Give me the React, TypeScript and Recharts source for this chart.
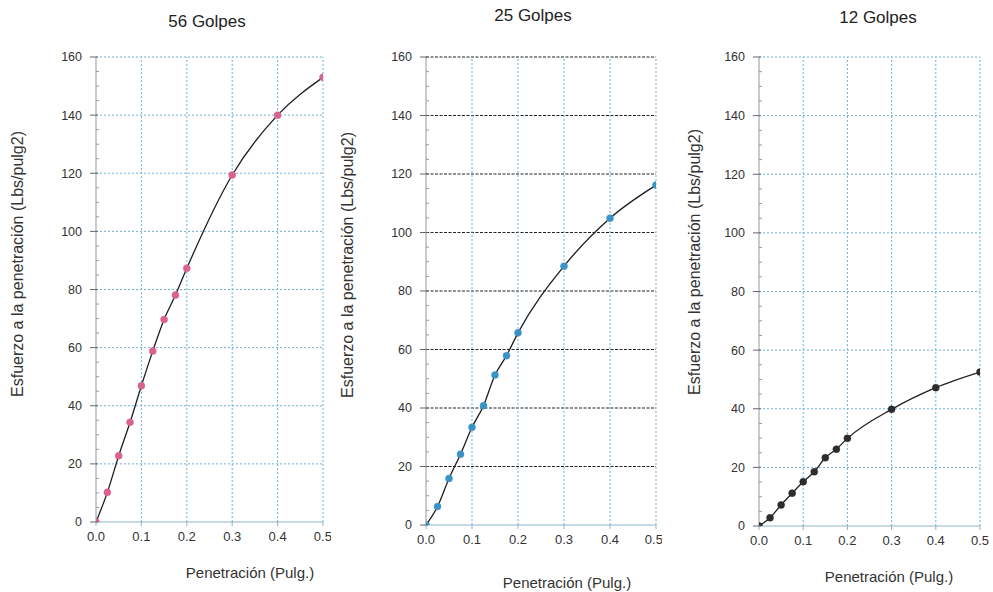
import React from 'react';
import { LineChart, Line, XAxis, YAxis, ReferenceLine } from 'recharts';

const penetration = [0, 0.025, 0.05, 0.075, 0.1, 0.125, 0.15, 0.175, 0.2, 0.3, 0.4, 0.5];
const stress56 = [0, 10.2, 22.8, 34.3, 46.9, 58.8, 69.7, 78.1, 87.3, 119.4, 140.0, 153.0];
const stress25 = [0, 6.3, 15.9, 24.2, 33.4, 40.8, 51.3, 57.9, 65.7, 88.5, 104.9, 116.2];
const stress12 = [0, 2.8, 7.2, 11.2, 15.1, 18.5, 23.3, 26.2, 29.9, 39.8, 47.2, 52.5];

const titles = ['56 Golpes', '25 Golpes', '12 Golpes'];
const xTicks = [0, 0.1, 0.2, 0.3, 0.4, 0.5];
const yMajorTicks = [0, 20, 40, 60, 80, 100, 120, 140, 160];
const yMinorTicks = [0, 5, 10, 15, 20, 25, 30, 35, 40, 45, 50, 55, 60, 65, 70, 75, 80, 85, 90, 95, 100, 105, 110, 115, 120, 125, 130, 135, 140, 145, 150, 155, 160];
const xLabel = 'Penetración (Pulg.)';
const yLabel = 'Esfuerzo a la penetración (Lbs/pulg2)';

const FONT = '"Liberation Sans", Arial, sans-serif';
const GRID_BLUE = '#6fb0d6';

type Cfg = {
  left: number;
  values: number[];
  dot: string;
  plotLeft: number;
  plotRight: number;
  plotBottom: number;
  hGridColor: string;
  hGridDash: string;
  titleX: number;
  titleY: number;
  yLabX: number;
  yLabY: number;
  xLabX: number;
  xLabY: number;
};

const configs: Cfg[] = [
  { left: 0, values: stress56, dot: '#d8638f', plotLeft: 96, plotRight: 323, plotBottom: 522, hGridColor: GRID_BLUE, hGridDash: '2 2', titleX: 207, titleY: 22, yLabX: 18, yLabY: 264, xLabX: 250, xLabY: 573 },
  { left: 331, values: stress25, dot: '#3a93c6', plotLeft: 426, plotRight: 656, plotBottom: 525, hGridColor: '#222', hGridDash: '3 1.5', titleX: 533, titleY: 16, yLabX: 348, yLabY: 265, xLabX: 567, xLabY: 583 },
  { left: 662, values: stress12, dot: '#2d2d2d', plotLeft: 759, plotRight: 980, plotBottom: 526, hGridColor: GRID_BLUE, hGridDash: '2 2', titleX: 878, titleY: 18, yLabX: 695, yLabY: 262, xLabX: 889, xLabY: 577 },
];

const YTick = (props: any) => {
  const { x, y, payload } = props;
  const v = payload.value as number;
  const major = v % 20 === 0;
  if (major) {
    return (
      <g>
        <line x1={x - 6} x2={x + 2} y1={y} y2={y} stroke="#666" strokeWidth={1} />
        <text x={x - 14} y={y} dy="0.35em" textAnchor="end" fontSize={12.5} fontFamily={FONT} fill="#333">
          {v}
        </text>
      </g>
    );
  }
  return <line x1={x} x2={x + 3} y1={y} y2={y} stroke="#999" strokeWidth={1} />;
};

const Panel = ({ cfg, index }: { cfg: Cfg; index: number }) => {
  const W = 331;
  const H = 592;
  const data = penetration.map((p, i) => ({ x: p, y: cfg.values[i] }));
  const yAxisW = 40;
  const xAxisH = 30;
  const relLeft = cfg.plotLeft - cfg.left;
  const relRight = cfg.plotRight - cfg.left;
  return (
    <div style={{ position: 'absolute', left: cfg.left, top: 0, width: W, height: H }}>
      <LineChart
        width={W}
        height={H}
        data={data}
        margin={{ top: 57, bottom: H - cfg.plotBottom - xAxisH, left: relLeft - yAxisW, right: W - relRight }}
      >
        <XAxis
          dataKey="x"
          type="number"
          domain={[0, 0.5]}
          ticks={xTicks}
          tickFormatter={(v: number) => v.toFixed(1)}
          height={xAxisH}
          tickSize={4}
          tickMargin={6}
          stroke="#8fb4c6"
          tick={{ fontSize: 13, fontFamily: FONT, fill: '#333' }}
          allowDataOverflow
        />
        <YAxis
          type="number"
          domain={[0, 160]}
          ticks={yMinorTicks}
          interval={0}
          width={yAxisW}
          tickSize={0}
          tickMargin={0}
          tickLine={false}
          stroke="#8a9aa4"
          tick={<YTick />}
          allowDataOverflow
        />
        {yMajorTicks.filter((v) => v > 0).map((v) => (
          <ReferenceLine key={'h' + v} y={v} stroke={cfg.hGridColor} strokeDasharray={cfg.hGridDash} strokeWidth={1} />
        ))}
        {xTicks.filter((v) => v > 0).map((v) => (
          <ReferenceLine key={'v' + v} x={v} stroke={GRID_BLUE} strokeDasharray="2 2" strokeWidth={1} />
        ))}
        <Line
          type="monotone"
          dataKey="y"
          stroke="#1e1e1e"
          strokeWidth={1.3}
          dot={{ r: 3.5, fill: cfg.dot, stroke: cfg.dot, strokeWidth: 0.5 }}
          activeDot={false}
          isAnimationActive={false}
        />
      </LineChart>
      <div
        style={{
          position: 'absolute',
          left: cfg.titleX - cfg.left - 80,
          top: cfg.titleY - 10,
          width: 160,
          textAlign: 'center',
          fontFamily: FONT,
          fontSize: 17,
          lineHeight: '20px',
          color: '#222',
        }}
      >
        {titles[index]}
      </div>
      <div
        style={{
          position: 'absolute',
          left: cfg.xLabX - cfg.left - 100,
          top: cfg.xLabY - 9,
          width: 200,
          textAlign: 'center',
          fontFamily: FONT,
          fontSize: 15,
          lineHeight: '18px',
          color: '#333',
          whiteSpace: 'nowrap',
        }}
      >
        {xLabel}
      </div>
      <div
        style={{
          position: 'absolute',
          left: cfg.yLabX - cfg.left - 160,
          top: cfg.yLabY - 9,
          width: 320,
          textAlign: 'center',
          fontFamily: FONT,
          fontSize: 16,
          lineHeight: '18px',
          color: '#333',
          transform: 'rotate(-90deg)',
          transformOrigin: '160px 9px',
          whiteSpace: 'nowrap',
        }}
      >
        {yLabel}
      </div>
    </div>
  );
};

export default function App() {
  return (
    <div style={{ position: 'absolute', left: 0, top: 0, width: 993, height: 592, background: '#fff', overflow: 'hidden' }}>
      {configs.map((c, i) => (
        <Panel key={i} cfg={c} index={i} />
      ))}
    </div>
  );
}
